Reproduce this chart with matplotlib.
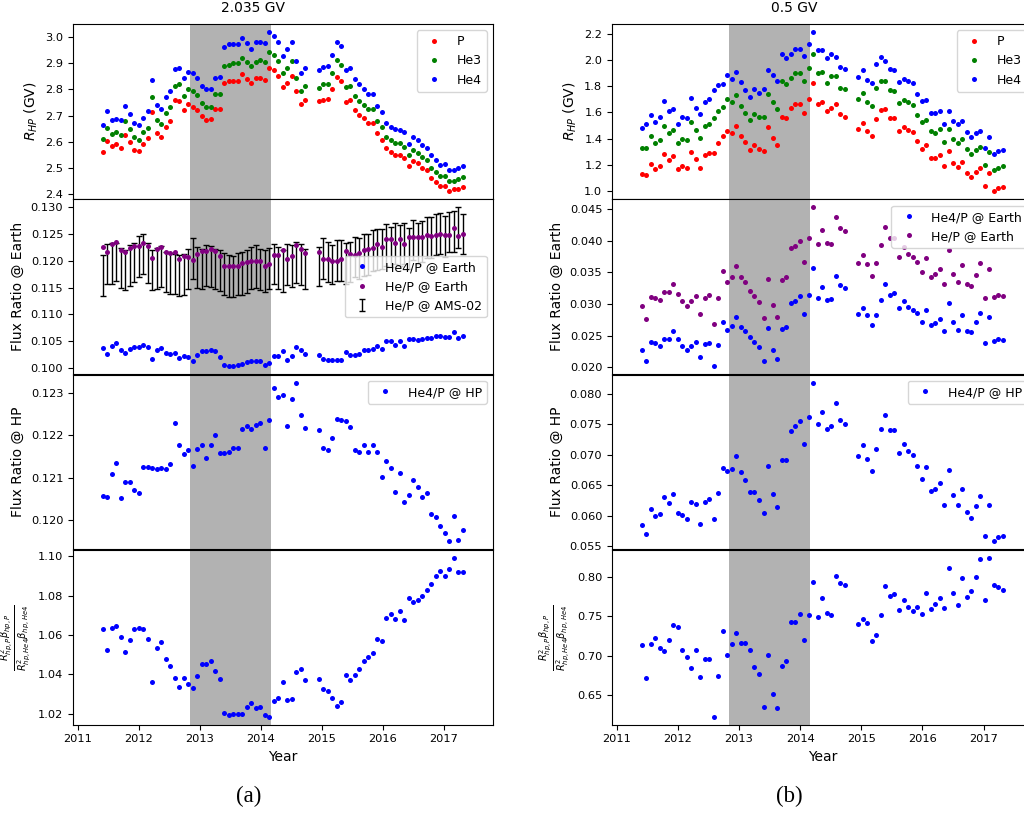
import numpy as np
import matplotlib
matplotlib.use('Agg')
import matplotlib.pyplot as plt

# mid-times of the Bartels rotations (BR 2472, 2473 missing)
years = [
    2011.404, 2011.478, 2011.552, 2011.626, 2011.700, 2011.774, 2011.848, 2011.921, 2011.995, 2012.069,
    2012.143, 2012.217, 2012.291, 2012.365, 2012.439, 2012.513, 2012.587, 2012.661, 2012.735, 2012.808,
    2012.882, 2012.956, 2013.030, 2013.104, 2013.178, 2013.252, 2013.326, 2013.400, 2013.474, 2013.548,
    2013.622, 2013.696, 2013.769, 2013.843, 2013.917, 2013.991, 2014.065, 2014.139, 2014.213, 2014.287,
    2014.361, 2014.435, 2014.509, 2014.583, 2014.656, 2014.730,
    2014.952, 2015.026, 2015.100, 2015.174, 2015.248, 2015.322, 2015.396, 2015.470, 2015.543, 2015.617,
    2015.691, 2015.765, 2015.839, 2015.913, 2015.987, 2016.061, 2016.135, 2016.209, 2016.283, 2016.357,
    2016.430, 2016.504, 2016.578, 2016.652, 2016.726, 2016.800, 2016.874, 2016.948, 2017.022, 2017.096,
    2017.170, 2017.244, 2017.318]

reversal = (2012.84, 2014.16)

# ---------------- (a) 2.035 GV ----------------
r_p_a = [
    2.563, 2.604, 2.583, 2.590, 2.577, 2.625, 2.600, 2.569, 2.564, 2.591,
    2.613, 2.713, 2.632, 2.619, 2.657, 2.679, 2.758, 2.757, 2.721, 2.743,
    2.732, 2.722, 2.697, 2.683, 2.687, 2.726, 2.726, 2.823, 2.832, 2.833,
    2.833, 2.857, 2.839, 2.822, 2.843, 2.843, 2.834, 2.879, 2.873, 2.851,
    2.808, 2.822, 2.852, 2.794, 2.745, 2.759,
    2.754, 2.760, 2.762, 2.799, 2.845, 2.833, 2.753, 2.759, 2.720, 2.702,
    2.689, 2.673, 2.673, 2.633, 2.608, 2.576, 2.560, 2.549, 2.549, 2.539,
    2.506, 2.526, 2.518, 2.499, 2.493, 2.464, 2.448, 2.431, 2.432, 2.414,
    2.419, 2.420, 2.429]
r_he3_a = [
    2.609, 2.651, 2.629, 2.636, 2.625, 2.679, 2.648, 2.617, 2.608, 2.636,
    2.653, 2.771, 2.684, 2.666, 2.710, 2.732, 2.813, 2.818, 2.776, 2.799,
    2.792, 2.777, 2.749, 2.732, 2.732, 2.780, 2.780, 2.888, 2.892, 2.898,
    2.901, 2.917, 2.903, 2.887, 2.904, 2.911, 2.902, 2.941, 2.930, 2.907,
    2.862, 2.882, 2.906, 2.843, 2.795, 2.813,
    2.803, 2.820, 2.818, 2.862, 2.910, 2.892, 2.809, 2.814, 2.775, 2.755,
    2.741, 2.725, 2.725, 2.680, 2.656, 2.620, 2.605, 2.595, 2.596, 2.581,
    2.548, 2.568, 2.557, 2.541, 2.531, 2.501, 2.484, 2.468, 2.471, 2.450,
    2.451, 2.460, 2.465]
r_he4_a = [
    2.664, 2.716, 2.683, 2.688, 2.682, 2.735, 2.706, 2.670, 2.665, 2.690,
    2.716, 2.837, 2.740, 2.726, 2.771, 2.795, 2.878, 2.882, 2.842, 2.866,
    2.860, 2.841, 2.811, 2.799, 2.799, 2.842, 2.847, 2.962, 2.972, 2.973,
    2.973, 2.996, 2.975, 2.954, 2.978, 2.978, 2.975, 3.018, 3.003, 2.978,
    2.927, 2.952, 2.981, 2.908, 2.861, 2.879,
    2.875, 2.885, 2.889, 2.930, 2.981, 2.964, 2.873, 2.882, 2.839, 2.819,
    2.801, 2.783, 2.781, 2.735, 2.712, 2.671, 2.655, 2.647, 2.645, 2.638,
    2.592, 2.617, 2.608, 2.587, 2.578, 2.548, 2.529, 2.511, 2.515, 2.494,
    2.493, 2.501, 2.508]

he4p_earth_a = [
    0.1037, 0.1027, 0.1042, 0.1046, 0.1033, 0.1029, 0.1036, 0.1039, 0.1039, 0.1044,
    0.1039, 0.1017, 0.1034, 0.1037, 0.1029, 0.1026, 0.1029, 0.1018, 0.1022, 0.1021,
    0.1014, 0.1024, 0.1031, 0.1031, 0.1033, 0.1031, 0.1021, 0.1005, 0.1004, 0.1004,
    0.1005, 0.1008, 0.1012, 0.1014, 0.1014, 0.1014, 0.1006, 0.1009, 0.1023, 0.1023,
    0.1031, 0.1016, 0.1022, 0.1039, 0.1033, 0.1026,
    0.1025, 0.1017, 0.1016, 0.1016, 0.1015, 0.1016, 0.1030, 0.1025, 0.1024, 0.1027,
    0.1033, 0.1033, 0.1035, 0.1042, 0.1035, 0.1050, 0.1050, 0.1043, 0.1051, 0.1041,
    0.1054, 0.1054, 0.1053, 0.1054, 0.1056, 0.1056, 0.1059, 0.1059, 0.1058, 0.1058,
    0.1068, 0.1056, 0.1059]
hep_earth_a = [
    0.1226, 0.1217, 0.1231, 0.1236, 0.1221, 0.1217, 0.1224, 0.1228, 0.1228, 0.1234,
    0.1228, 0.1205, 0.1222, 0.1226, 0.1217, 0.1214, 0.1216, 0.1204, 0.1209, 0.1207,
    0.1201, 0.1212, 0.1218, 0.1218, 0.1223, 0.1219, 0.1209, 0.1191, 0.1191, 0.1191,
    0.1191, 0.1196, 0.1198, 0.1200, 0.1199, 0.1199, 0.1190, 0.1195, 0.1211, 0.1211,
    0.1220, 0.1203, 0.1209, 0.1229, 0.1223, 0.1215,
    0.1216, 0.1204, 0.1204, 0.1200, 0.1200, 0.1204, 0.1218, 0.1212, 0.1211, 0.1215,
    0.1221, 0.1222, 0.1224, 0.1231, 0.1225, 0.1241, 0.1241, 0.1233, 0.1241, 0.1231,
    0.1244, 0.1244, 0.1244, 0.1244, 0.1249, 0.1247, 0.1249, 0.1251, 0.1248, 0.1249,
    0.1261, 0.1247, 0.1250]
ams_hep_a = [
    0.1172, 0.1194, 0.1195, 0.1198, 0.1187, 0.1183, 0.1192, 0.1197, 0.1208, 0.1213,
    0.1196, 0.1183, 0.1186, 0.1189, 0.1179, 0.1176, 0.1175, 0.1173, 0.1175, 0.1185,
    0.1205, 0.1188, 0.1185, 0.1191, 0.1189, 0.1185, 0.1182, 0.1175, 0.1172, 0.1171,
    0.1175, 0.1177, 0.1180, 0.1187, 0.1190, 0.1184, 0.1181, 0.1186, 0.1194, 0.1187,
    0.1181, 0.1193, 0.1190, 0.1197, 0.1193, 0.1185,
    0.1190, 0.1204, 0.1198, 0.1193, 0.1201, 0.1200, 0.1195, 0.1198, 0.1207, 0.1204,
    0.1211, 0.1212, 0.1219, 0.1221, 0.1222, 0.1229, 0.1226, 0.1233, 0.1228, 0.1233,
    0.1223, 0.1239, 0.1233, 0.1236, 0.1244, 0.1244, 0.1249, 0.1251, 0.1246, 0.1254,
    0.1255, 0.1262, 0.1250]
ams_err_a = [
    0.0038, 0.0037, 0.0038, 0.0036, 0.0037, 0.0038, 0.0038, 0.0037, 0.0038, 0.0038,
    0.0038, 0.0037, 0.0038, 0.0038, 0.0038, 0.0038, 0.0037, 0.0038, 0.0038, 0.0038,
    0.0038, 0.0038, 0.0038, 0.0038, 0.0038, 0.0038, 0.0039, 0.0039, 0.0039, 0.0038,
    0.0039, 0.0040, 0.0040, 0.0039, 0.0040, 0.0039, 0.0039, 0.0038, 0.0038, 0.0039,
    0.0039, 0.0038, 0.0039, 0.0039, 0.0038, 0.0038,
    0.0036, 0.0038, 0.0037, 0.0037, 0.0038, 0.0038, 0.0038, 0.0038, 0.0038, 0.0038,
    0.0039, 0.0038, 0.0038, 0.0038, 0.0038, 0.0039, 0.0038, 0.0038, 0.0038, 0.0038,
    0.0038, 0.0038, 0.0038, 0.0038, 0.0038, 0.0038, 0.0038, 0.0038, 0.0038, 0.0038,
    0.0038, 0.0038, 0.0038]

he4p_hp_a = [
    0.12056, 0.12055, 0.12108, 0.12135, 0.12051, 0.12089, 0.12089, 0.12071, 0.12063, 0.12125,
    0.12124, 0.12122, 0.12119, 0.12123, 0.12121, 0.12133, 0.12229, 0.12177, 0.12156, 0.12165,
    0.12127, 0.12168, 0.12176, 0.12147, 0.12176, 0.12201, 0.12158, 0.12158, 0.12161, 0.12169,
    0.12169, 0.12215, 0.12222, 0.12214, 0.12225, 0.12230, 0.12170, 0.12237, 0.12311, 0.12290,
    0.12296, 0.12223, 0.12286, 0.12325, 0.12248, 0.12218,
    0.12213, 0.12169, 0.12165, 0.12194, 0.12239, 0.12237, 0.12234, 0.12220, 0.12165, 0.12161,
    0.12177, 0.12161, 0.12177, 0.12161, 0.12101, 0.12139, 0.12122, 0.12066, 0.12111, 0.12041,
    0.12058, 0.12093, 0.12078, 0.12054, 0.12064, 0.12013, 0.12006, 0.11985, 0.11968, 0.11949,
    0.12008, 0.11951, 0.11976]

ratio_a = [
    1.0631, 1.0526, 1.0635, 1.0647, 1.0589, 1.0516, 1.0575, 1.0631, 1.0635, 1.0633,
    1.0580, 1.0361, 1.0533, 1.0565, 1.0477, 1.0443, 1.0383, 1.0336, 1.0383, 1.0351,
    1.0331, 1.0394, 1.0453, 1.0453, 1.0470, 1.0419, 1.0375, 1.0202, 1.0192, 1.0197,
    1.0197, 1.0200, 1.0234, 1.0256, 1.0232, 1.0237, 1.0195, 1.0186, 1.0266, 1.0280,
    1.0360, 1.0270, 1.0273, 1.0414, 1.0426, 1.0372,
    1.0375, 1.0324, 1.0317, 1.0278, 1.0241, 1.0261, 1.0399, 1.0372, 1.0397, 1.0426,
    1.0470, 1.0489, 1.0507, 1.0579, 1.0570, 1.0689, 1.0708, 1.0679, 1.0723, 1.0676,
    1.0789, 1.0769, 1.0776, 1.0800, 1.0828, 1.0859, 1.0898, 1.0927, 1.0901, 1.0937,
    1.0992, 1.0918, 1.0922]

# ---------------- (b) 0.5 GV ----------------
r_p_b = [
    1.126, 1.123, 1.208, 1.167, 1.190, 1.285, 1.233, 1.264, 1.167, 1.187,
    1.174, 1.295, 1.246, 1.177, 1.274, 1.292, 1.287, 1.364, 1.418, 1.456,
    1.444, 1.495, 1.418, 1.372, 1.315, 1.351, 1.318, 1.308, 1.487, 1.405,
    1.351, 1.569, 1.554, 1.631, 1.664, 1.667, 1.597, 1.705, 1.828, 1.664,
    1.682, 1.613, 1.638, 1.667, 1.585, 1.569,
    1.474, 1.523, 1.454, 1.421, 1.549, 1.618, 1.626, 1.559, 1.556, 1.459,
    1.485, 1.467, 1.451, 1.382, 1.323, 1.349, 1.254, 1.254, 1.277, 1.187,
    1.303, 1.213, 1.182, 1.223, 1.138, 1.108, 1.146, 1.174, 1.033, 1.133,
    1.000, 1.021, 1.026]
r_he3_b = [
    1.326, 1.331, 1.418, 1.364, 1.390, 1.500, 1.446, 1.469, 1.364, 1.397,
    1.390, 1.526, 1.464, 1.403, 1.495, 1.508, 1.554, 1.608, 1.644, 1.703,
    1.682, 1.733, 1.651, 1.595, 1.544, 1.592, 1.562, 1.569, 1.744, 1.677,
    1.626, 1.844, 1.815, 1.867, 1.905, 1.905, 1.844, 1.941, 2.049, 1.905,
    1.910, 1.826, 1.879, 1.877, 1.790, 1.777,
    1.700, 1.746, 1.682, 1.649, 1.790, 1.844, 1.841, 1.772, 1.764, 1.674,
    1.692, 1.682, 1.659, 1.577, 1.528, 1.544, 1.454, 1.446, 1.472, 1.374,
    1.472, 1.400, 1.367, 1.400, 1.318, 1.282, 1.313, 1.338, 1.197, 1.295,
    1.159, 1.177, 1.190]
r_he4_b = [
    1.482, 1.515, 1.582, 1.528, 1.564, 1.685, 1.608, 1.626, 1.515, 1.564,
    1.556, 1.713, 1.636, 1.585, 1.677, 1.700, 1.772, 1.813, 1.818, 1.890,
    1.859, 1.910, 1.833, 1.774, 1.715, 1.782, 1.749, 1.779, 1.928, 1.890,
    1.841, 2.046, 2.018, 2.051, 2.090, 2.085, 2.036, 2.126, 2.218, 2.082,
    2.077, 2.018, 2.049, 2.028, 1.949, 1.933,
    1.869, 1.923, 1.849, 1.828, 1.972, 2.026, 1.997, 1.933, 1.928, 1.836,
    1.856, 1.841, 1.828, 1.738, 1.685, 1.692, 1.595, 1.595, 1.613, 1.515,
    1.610, 1.536, 1.508, 1.533, 1.451, 1.413, 1.444, 1.459, 1.331, 1.413,
    1.282, 1.305, 1.315]

he4p_earth_b = [
    0.0228, 0.0210, 0.0240, 0.0238, 0.0234, 0.0244, 0.0245, 0.0257, 0.0244, 0.0234,
    0.0228, 0.0234, 0.0240, 0.0216, 0.0237, 0.0239, 0.0202, 0.0235, 0.0272, 0.0259,
    0.0265, 0.0279, 0.0264, 0.0258, 0.0248, 0.0240, 0.0232, 0.0210, 0.0262, 0.0227,
    0.0213, 0.0260, 0.0263, 0.0301, 0.0304, 0.0312, 0.0284, 0.0315, 0.0357, 0.0309,
    0.0327, 0.0307, 0.0308, 0.0345, 0.0330, 0.0325,
    0.0284, 0.0293, 0.0282, 0.0266, 0.0283, 0.0306, 0.0331, 0.0315, 0.0317, 0.0293,
    0.0304, 0.0296, 0.0291, 0.0285, 0.0272, 0.0291, 0.0267, 0.0270, 0.0277, 0.0258,
    0.0301, 0.0271, 0.0259, 0.0283, 0.0258, 0.0256, 0.0271, 0.0286, 0.0239, 0.0279,
    0.0241, 0.0244, 0.0243]
hep_earth_b = [
    0.0297, 0.0277, 0.0311, 0.0309, 0.0307, 0.0319, 0.0319, 0.0332, 0.0316, 0.0304,
    0.0297, 0.0305, 0.0313, 0.0284, 0.0310, 0.0314, 0.0269, 0.0309, 0.0352, 0.0335,
    0.0343, 0.0360, 0.0342, 0.0335, 0.0321, 0.0313, 0.0303, 0.0278, 0.0339, 0.0298,
    0.0280, 0.0338, 0.0343, 0.0388, 0.0391, 0.0400, 0.0367, 0.0404, 0.0453, 0.0395,
    0.0417, 0.0397, 0.0395, 0.0438, 0.0420, 0.0415,
    0.0365, 0.0377, 0.0363, 0.0345, 0.0365, 0.0394, 0.0422, 0.0404, 0.0405, 0.0375,
    0.0390, 0.0379, 0.0374, 0.0367, 0.0351, 0.0373, 0.0342, 0.0348, 0.0356, 0.0332,
    0.0385, 0.0348, 0.0334, 0.0362, 0.0331, 0.0329, 0.0346, 0.0365, 0.0309, 0.0356,
    0.0311, 0.0314, 0.0313]

he4p_hp_b = [
    0.0584, 0.0570, 0.0611, 0.0600, 0.0603, 0.0631, 0.0621, 0.0636, 0.0605, 0.0602,
    0.0595, 0.0623, 0.0620, 0.0586, 0.0623, 0.0628, 0.0594, 0.0637, 0.0679, 0.0673,
    0.0677, 0.0699, 0.0672, 0.0659, 0.0639, 0.0639, 0.0626, 0.0604, 0.0681, 0.0635,
    0.0614, 0.0692, 0.0692, 0.0740, 0.0747, 0.0755, 0.0718, 0.0763, 0.0819, 0.0751,
    0.0771, 0.0742, 0.0748, 0.0785, 0.0757, 0.0751,
    0.0699, 0.0716, 0.0694, 0.0674, 0.0710, 0.0742, 0.0766, 0.0741, 0.0741, 0.0703,
    0.0718, 0.0707, 0.0700, 0.0681, 0.0660, 0.0680, 0.0641, 0.0644, 0.0654, 0.0618,
    0.0676, 0.0634, 0.0618, 0.0644, 0.0606, 0.0597, 0.0616, 0.0632, 0.0566, 0.0617,
    0.0558, 0.0565, 0.0567]

ratio_b = [
    0.7132, 0.6714, 0.7145, 0.7222, 0.7094, 0.7060, 0.7205, 0.7385, 0.7363, 0.7077,
    0.6987, 0.6842, 0.7068, 0.6722, 0.6957, 0.6953, 0.6222, 0.6735, 0.7312, 0.7013,
    0.7154, 0.7286, 0.7167, 0.7158, 0.7068, 0.6855, 0.6769, 0.6350, 0.7013, 0.6504,
    0.6333, 0.6868, 0.6936, 0.7427, 0.7427, 0.7526, 0.7201, 0.7521, 0.7936, 0.7487,
    0.7735, 0.7543, 0.7521, 0.8017, 0.7927, 0.7897,
    0.7402, 0.7466, 0.7415, 0.7192, 0.7265, 0.7517, 0.7885, 0.7761, 0.7782, 0.7585,
    0.7709, 0.7620, 0.7564, 0.7620, 0.7530, 0.7799, 0.7590, 0.7654, 0.7739, 0.7611,
    0.8115, 0.7803, 0.7650, 0.7996, 0.7748, 0.7825, 0.8009, 0.8239, 0.7705, 0.8248,
    0.7897, 0.7880, 0.7838]

W, H = 1024, 816
TICK = 8.2
LAB = 10
MS = 3.6

fig = plt.figure(figsize=(W / 100, H / 100), dpi=100)


def make_column(left_px, width_px):
    axes = []
    for k in range(4):
        top = 24 + 175.3 * k
        ax = fig.add_axes([left_px / W, 1 - (top + 174.6) / H, width_px / W, 174.6 / H],
                          sharex=axes[0] if axes else None)
        ax.axvspan(*reversal, color='gray', alpha=0.6, lw=0, zorder=0)
        ax.tick_params(labelsize=TICK)
        if k < 3:
            ax.tick_params(labelbottom=False)
        axes.append(ax)
    axes[0].set_xlim(2010.92, 2017.81)
    axes[0].set_xticks(range(2011, 2018))
    axes[3].set_xlabel('Year', fontsize=LAB)
    return axes


def dots(ax, y, color, label):
    return ax.plot(years, y, 'o', color=color, ms=MS, mew=0, label=label)[0]


ratio_label = r'$\frac{R^2_{hp,P}\beta_{hp,P}}{R^2_{hp,He4}\beta_{hp,He4}}$'

# left column
a1, a2, a3, a4 = make_column(73, 420)
dots(a1, r_p_a, 'red', 'P')
dots(a1, r_he3_a, 'green', 'He3')
dots(a1, r_he4_a, 'blue', 'He4')
a1.set_ylabel(r'$R_{HP}$ (GV)', fontsize=LAB)
a1.legend(loc='upper right', fontsize=9)

eb = a2.errorbar(years, ams_hep_a, yerr=ams_err_a, fmt='none', ecolor='black',
                 elinewidth=1.0, capsize=2, capthick=1.0, label='He/P @ AMS-02')
h_he4 = dots(a2, he4p_earth_a, 'blue', 'He4/P @ Earth')
h_he = dots(a2, hep_earth_a, 'purple', 'He/P @ Earth')
a2.set_ylabel('Flux Ratio @ Earth', fontsize=LAB)
a2.legend(handles=[h_he4, h_he, eb], loc='center right', fontsize=9)

dots(a3, he4p_hp_a, 'blue', 'He4/P @ HP')
a3.set_ylabel('Flux Ratio @ HP', fontsize=LAB)
a3.legend(loc='upper right', fontsize=9)

dots(a4, ratio_a, 'blue', None)
a4.set_ylabel(ratio_label, fontsize=LAB)

# right column (runs past the right edge of the picture)
b1, b2, b3, b4 = make_column(612, 421)
dots(b1, r_p_b, 'red', 'P')
dots(b1, r_he3_b, 'green', 'He3')
dots(b1, r_he4_b, 'blue', 'He4')
b1.set_ylabel(r'$R_{HP}$ (GV)', fontsize=LAB)
b1.legend(loc='upper right', fontsize=9)

dots(b2, he4p_earth_b, 'blue', 'He4/P @ Earth')
dots(b2, hep_earth_b, 'purple', 'He/P @ Earth')
b2.set_ylabel('Flux Ratio @ Earth', fontsize=LAB)
b2.legend(loc='upper right', fontsize=9)

dots(b3, he4p_hp_b, 'blue', 'He4/P @ HP')
b3.set_ylabel('Flux Ratio @ HP', fontsize=LAB)
b3.legend(loc='upper right', fontsize=9)

dots(b4, ratio_b, 'blue', None)
b4.set_ylabel(ratio_label, fontsize=LAB)

fig.text(253 / W, 1 - 8 / H, '2.035 GV', ha='center', va='center', fontsize=10)
fig.text(794 / W, 1 - 8 / H, '0.5 GV', ha='center', va='center', fontsize=10)
fig.text(249 / W, 1 - 796 / H, '(a)', ha='center', va='center', fontsize=16.5,
         family='Liberation Serif')
fig.text(789 / W, 1 - 796 / H, '(b)', ha='center', va='center', fontsize=16.5,
         family='Liberation Serif')

fig.savefig('out.png', dpi=100)
